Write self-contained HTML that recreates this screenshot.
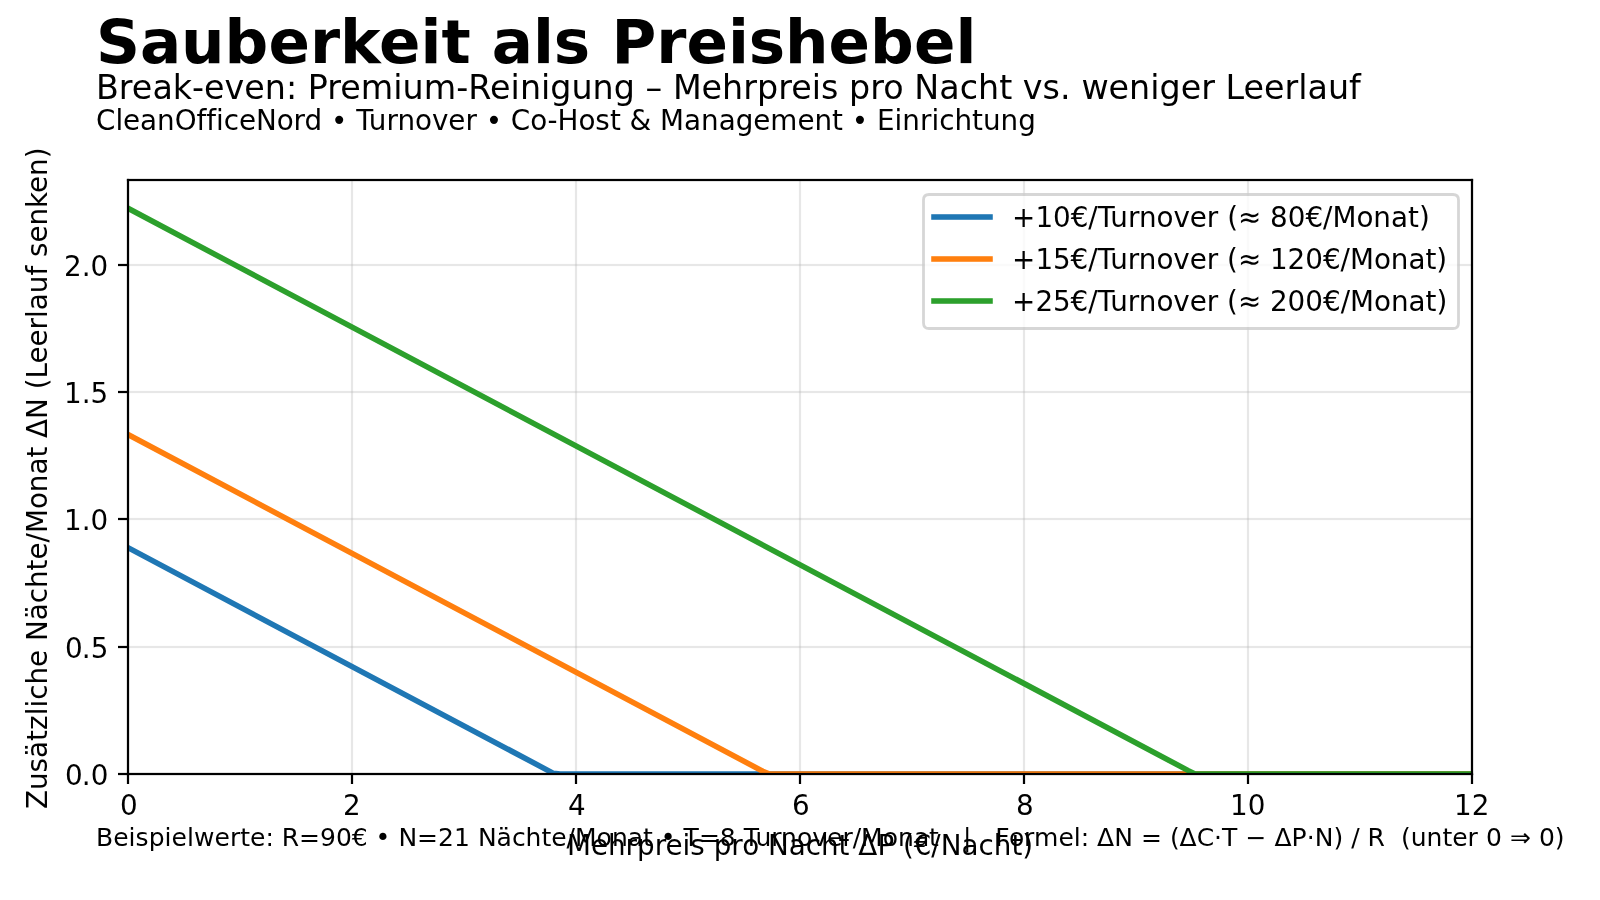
<!DOCTYPE html>
<html lang="de"><head><meta charset="utf-8"><title>Sauberkeit als Preishebel</title>
<style>html,body{margin:0;padding:0;background:#fff;overflow:hidden}svg{display:block}text{font-family:'DejaVu Sans','Liberation Sans',sans-serif;fill:#000;white-space:pre;text-rendering:auto}</style></head><body>
<svg width="1600" height="900" viewBox="0 0 1600 900" style="will-change:transform">
<rect width="1600" height="900" fill="#fff"/>
<defs><clipPath id="c"><rect x="128" y="180" width="1344" height="594"/></clipPath></defs>
<g fill="#b0b0b0" fill-opacity="0.3">
<rect x="126.889" y="180" width="2.222" height="594"/>
<rect x="350.889" y="180" width="2.222" height="594"/>
<rect x="574.889" y="180" width="2.222" height="594"/>
<rect x="798.889" y="180" width="2.222" height="594"/>
<rect x="1022.889" y="180" width="2.222" height="594"/>
<rect x="1246.889" y="180" width="2.222" height="594"/>
<rect x="1470.889" y="180" width="2.222" height="594"/>
<rect x="128" y="772.889" width="1344" height="2.222"/>
<rect x="128" y="645.889" width="1344" height="2.222"/>
<rect x="128" y="517.889" width="1344" height="2.222"/>
<rect x="128" y="390.889" width="1344" height="2.222"/>
<rect x="128" y="263.889" width="1344" height="2.222"/>
</g>
<g fill="#000">
<rect x="126.889" y="774" width="2.222" height="10"/>
<rect x="350.889" y="774" width="2.222" height="10"/>
<rect x="574.889" y="774" width="2.222" height="10"/>
<rect x="798.889" y="774" width="2.222" height="10"/>
<rect x="1022.889" y="774" width="2.222" height="10"/>
<rect x="1246.889" y="774" width="2.222" height="10"/>
<rect x="1470.889" y="774" width="2.222" height="10"/>
<rect x="118" y="772.889" width="10" height="2.222"/>
<rect x="118" y="645.889" width="10" height="2.222"/>
<rect x="118" y="517.889" width="10" height="2.222"/>
<rect x="118" y="390.889" width="10" height="2.222"/>
<rect x="118" y="263.889" width="10" height="2.222"/>
</g>
<path d="M128.000 547.714L553.487 773.375L560.241 774.000L1472.000 774.000" clip-path="url(#c)" fill="none" stroke="#1f77b4" stroke-width="5.556" stroke-linecap="square" stroke-linejoin="round"/>
<path d="M128.000 434.571L762.854 771.271L769.608 774.000L1472.000 774.000" clip-path="url(#c)" fill="none" stroke="#ff7f0e" stroke-width="5.556" stroke-linecap="square" stroke-linejoin="round"/>
<path d="M128.000 208.286L1188.342 770.646L1195.095 774.000L1472.000 774.000" clip-path="url(#c)" fill="none" stroke="#2ca02c" stroke-width="5.556" stroke-linecap="square" stroke-linejoin="round"/>
<g fill="#000">
<rect x="126.889" y="178.889" width="2.222" height="596.222"/>
<rect x="1470.889" y="178.889" width="2.222" height="596.222"/>
<rect x="126.889" y="772.889" width="1346.222" height="2.222"/>
<rect x="126.889" y="178.889" width="1346.222" height="2.222"/>
</g>
<path d="M929.056 328.500L1452.944 328.500Q1458.500 328.500 1458.500 322.944L1458.500 200.056Q1458.500 194.500 1452.944 194.500L929.056 194.500Q923.500 194.500 923.500 200.056L923.500 322.944Q923.500 328.500 929.056 328.500Z" fill="#fff" stroke="#ccc" stroke-width="2.778" opacity="0.8"/>
<rect x="931.222" y="214.222" width="61.556" height="5.556" fill="#1f77b4"/>
<rect x="931.222" y="256.222" width="61.556" height="5.556" fill="#ff7f0e"/>
<rect x="931.222" y="298.222" width="61.556" height="5.556" fill="#2ca02c"/>
<g style="mix-blend-mode:multiply">
<text transform="translate(0 815.000) scale(1 1.0500)" x="120.00" y="0" font-size="27.778">0</text>
<text transform="translate(0 815.000) scale(1 1.0500)" x="343.00" y="0" font-size="27.778">2</text>
<text transform="translate(0 815.000) scale(1 1.0500)" x="567.88" y="0" font-size="27.778">4</text>
<text transform="translate(0 815.000) scale(1 1.0500)" x="792.00" y="0" font-size="27.778">6</text>
<text transform="translate(0 815.000) scale(1 1.0500)" x="1016.00" y="0" font-size="27.778">8</text>
<text transform="translate(0 815.000) scale(1 1.0500)" x="1230.12 1247.75" y="0" font-size="27.778">10</text>
<text transform="translate(0 815.000) scale(1 1.0500)" x="1454.12 1471.75" y="0" font-size="27.778">12</text>
<text transform="translate(0 785.000) scale(1 1.0500)" x="65.12 81.88 90.75" y="0" font-size="27.778">0.0</text>
<text transform="translate(0 658.000) scale(1 1.0500)" x="65.12 81.88 90.75" y="0" font-size="27.778">0.5</text>
<text transform="translate(0 530.000) scale(1 1.0500)" x="64.12 81.75 90.62" y="0" font-size="27.778">1.0</text>
<text transform="translate(0 403.000) scale(1 1.0500)" x="64.12 81.75 90.62" y="0" font-size="27.778">1.5</text>
<text transform="translate(0 276.000) scale(1 1.0500)" x="64.12 81.75 90.62" y="0" font-size="27.778">2.0</text>
<text transform="translate(0 855.000) scale(1 1.0500)" x="567.00 591.00 608.00 625.62 637.12 654.75 665.62 682.62 690.38 704.88 713.75 731.38 742.25 759.12 768.00 788.75 805.75 821.00 838.62 849.50 858.38 877.38 894.12 903.00 913.75 931.38 940.75 961.50 978.50 993.75 1011.38 1022.25" y="0" font-size="27.778">Mehrpreis pro Nacht ΔP (€/Nacht)</text>
<text transform="translate(46.992 809.000) rotate(-90)" x="0.00 19.00 36.62 51.12 68.12 79.00 93.75 101.50 109.25 124.50 142.12 159.12 168.00 188.75 205.75 221.00 238.62 249.50 266.50 275.88 299.88 316.75 334.38 351.38 362.25 371.12 390.12 410.88 419.75 430.50 445.50 462.50 479.50 491.00 498.75 515.75 533.38 543.12 552.00 566.50 583.50 601.12 616.12 633.12 650.75" y="0" font-size="27.778">Zusätzliche Nächte/Monat ΔN (Leerlauf senken)</text>
<text transform="translate(0 227.000) scale(1 1.0500)" x="1012.00 1035.38 1053.00 1070.75 1088.38 1097.75 1110.38 1128.00 1139.00 1156.62 1173.50 1189.88 1206.88 1218.38 1227.25 1238.00 1261.25 1270.12 1287.75 1305.50 1323.12 1332.50 1356.50 1373.38 1391.00 1408.00 1418.88" y="0" font-size="27.778">+10€/Turnover (≈ 80€/Monat)</text>
<text transform="translate(0 269.000) scale(1 1.0500)" x="1012.00 1035.38 1053.00 1070.62 1088.25 1097.62 1110.25 1127.88 1138.88 1156.50 1173.38 1189.75 1206.75 1218.25 1227.12 1237.88 1261.12 1270.00 1287.62 1305.25 1323.00 1340.62 1350.00 1374.00 1390.88 1408.50 1425.50 1436.38" y="0" font-size="27.778">+15€/Turnover (≈ 120€/Monat)</text>
<text transform="translate(0 311.000) scale(1 1.0500)" x="1012.00 1035.38 1053.00 1070.62 1088.25 1097.62 1110.25 1127.88 1138.88 1156.50 1173.38 1189.75 1206.75 1218.25 1227.12 1237.88 1261.12 1270.00 1287.62 1305.38 1323.12 1340.75 1350.12 1374.12 1391.00 1408.62 1425.62 1436.50" y="0" font-size="27.778">+25€/Turnover (≈ 200€/Monat)</text>
<text transform="translate(0 63.000)" x="96.00 140.00 181.12 224.62 268.38 309.88 340.00 379.00 420.50 441.38 470.50 491.75 532.88 553.75 590.12 611.38 656.25 686.38 727.88 748.75 785.12 828.62 870.12 913.88 955.38" y="0" font-size="61.111" font-weight="700">Sauberkeit als Preishebel</text>
<text transform="translate(0 99.000) scale(1 1.0100)" x="96.00 118.88 131.88 152.38 172.75 192.00 204.00 224.50 244.25 264.75 285.88 297.12 307.75 327.25 340.25 360.75 393.38 402.62 423.75 456.38 468.38 490.12 510.62 519.88 541.00 550.25 571.50 592.62 613.75 635.00 645.62 662.25 672.88 701.62 722.12 743.25 757.00 778.25 791.25 811.75 821.00 838.38 849.00 870.25 883.25 903.75 914.38 939.38 959.75 978.12 999.25 1012.25 1022.88 1042.62 1060.00 1070.75 1081.38 1108.62 1129.12 1150.25 1159.50 1180.75 1201.25 1215.00 1225.62 1243.50 1264.00 1284.50 1298.25 1307.50 1327.88 1349.00" y="0" font-size="33.333">Break-even: Premium-Reinigung – Mehrpreis pro Nacht vs. weniger Leerlauf</text>
<text transform="translate(0 130.000) scale(1 1.0500)" x="96.00 115.38 123.12 140.12 157.12 174.75 196.50 206.25 216.00 223.75 239.00 256.00 276.75 293.62 304.62 322.25 331.12 347.38 356.25 368.88 386.50 397.50 415.12 432.00 448.38 465.38 476.88 485.75 502.00 510.88 530.25 547.62 557.62 578.50 595.38 609.88 620.75 629.62 651.25 660.12 684.12 701.12 718.75 735.75 753.38 770.38 797.50 814.50 832.12 843.00 851.88 868.12 877.00 894.62 902.38 920.00 931.50 939.25 954.50 972.12 983.00 1000.62 1018.25" y="0" font-size="27.778">CleanOfficeNord • Turnover • Co-Host &amp; Management • Einrichtung</text>
<text transform="translate(0 846.000)" x="96.00 113.25 128.62 135.62 148.75 164.62 171.62 187.00 194.00 214.50 229.88 240.25 250.00 265.38 273.75 281.75 299.12 320.00 335.88 351.75 367.62 375.62 390.38 398.38 417.12 438.00 454.00 469.88 477.88 496.62 511.88 525.62 541.50 551.25 566.62 575.00 596.62 611.88 627.75 643.00 652.75 660.75 675.50 683.50 698.88 719.75 735.75 743.75 755.38 771.25 781.12 797.00 812.25 827.00 842.38 852.75 861.12 882.75 898.00 913.88 929.12 938.88 946.88 954.88 962.88 971.25 979.25 987.25 995.25 1008.88 1024.12 1034.00 1058.38 1073.75 1080.75 1089.12 1097.12 1114.25 1133.00 1141.00 1161.88 1169.88 1179.62 1196.75 1214.12 1222.12 1237.50 1245.50 1266.50 1274.50 1291.62 1306.75 1314.75 1333.50 1343.25 1351.25 1359.62 1367.62 1385.00 1393.00 1401.00 1410.75 1426.62 1442.50 1452.25 1467.62 1478.00 1486.00 1501.88 1509.88 1530.88 1538.88 1554.75" y="0" font-size="25.000">Beispielwerte: R=90€ • N=21 Nächte/Monat • T=8 Turnover/Monat   |   Formel: ΔN = (ΔC·T − ΔP·N) / R  (unter 0 ⇒ 0)</text>
</g>
</svg></body></html>
